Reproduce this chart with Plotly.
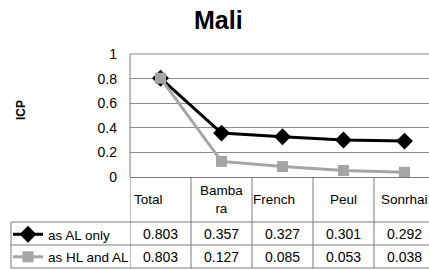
import plotly.graph_objects as go

categories = ["Total", "Bambara", "French", "Peul", "Sonrhai"]
header_labels = ["Total", "Bamba<br>ra", "French", "Peul", "Sonrhai"]
series_names = ["as AL only", "as HL and AL"]
al_only = [0.803, 0.357, 0.327, 0.301, 0.292]
hl_and_al = [0.803, 0.127, 0.085, 0.053, 0.038]
y_ticks = [0, 0.2, 0.4, 0.6, 0.8, 1]

W, H = 429, 270
FONT = "Liberation Sans, Arial, sans-serif"
GRID = "#8a8a8a"
BORDER = "#7a7a7a"

def px_x(p):
    return p / W

def px_y(p):
    return 1 - p / H

plot_left, plot_top, plot_bottom = 130, 54, 177
row1, row2, row3 = 222, 245, 268
col_w = 61

fig = go.Figure()
fig.add_trace(go.Scatter(
    x=categories, y=al_only, name=series_names[0], mode="lines+markers",
    legendgroup="a",
    line=dict(color="black", width=3),
    marker=dict(symbol="diamond", size=13, color="black"),
))
fig.add_trace(go.Scatter(
    x=categories, y=hl_and_al, name=series_names[1], mode="lines+markers",
    legendgroup="b",
    line=dict(color="#a5a5a5", width=3),
    marker=dict(symbol="square", size=11, color="#a5a5a5"),
))

x_max = -0.5 + (W - plot_left) / col_w

shapes = []
for i in range(len(categories)):
    xb = i - 0.5
    shapes.append(dict(type="line", xref="x", yref="paper", x0=xb, x1=xb,
                       y0=px_y(plot_bottom), y1=px_y(row3),
                       line=dict(color=BORDER, width=1)))
shapes.append(dict(type="line", xref="paper", yref="paper", x0=px_x(11), x1=px_x(11),
                   y0=px_y(row1), y1=px_y(row3), line=dict(color=BORDER, width=1)))
for yy in (row1, row2, row3):
    shapes.append(dict(type="line", xref="paper", yref="paper", x0=px_x(11), x1=1,
                       y0=px_y(yy), y1=px_y(yy), line=dict(color=BORDER, width=1)))
shapes.append(dict(type="line", xref="paper", yref="paper", x0=px_x(plot_left), x1=1,
                   y0=px_y(plot_top), y1=px_y(plot_top), line=dict(color=GRID, width=1)))
shapes.append(dict(type="line", xref="paper", yref="paper", x0=px_x(plot_left), x1=px_x(plot_left),
                   y0=px_y(plot_top), y1=px_y(plot_bottom), line=dict(color=BORDER, width=1)))

annotations = []
align = ["left", "center", "left", "center", "center"]
for i, lab in enumerate(header_labels):
    if align[i] == "left":
        annotations.append(dict(xref="x", yref="paper", x=i - 0.5, y=px_y((plot_bottom + row1) / 2),
                                text=lab, showarrow=False, xanchor="left", yanchor="middle",
                                xshift=2 if i == 0 else -1,
                                font=dict(family=FONT, size=13.5, color="black")))
    else:
        annotations.append(dict(xref="x", yref="paper", x=i, y=px_y((plot_bottom + row1) / 2),
                                text=lab, showarrow=False, xanchor="center", yanchor="middle",
                                font=dict(family=FONT, size=13.5, color="black")))
for vals, (ya, yb) in ((al_only, (row1, row2)), (hl_and_al, (row2, row3))):
    for i, v in enumerate(vals):
        annotations.append(dict(xref="x", yref="paper", x=i, y=px_y((ya + yb) / 2),
                                text=f"{v:.3f}", showarrow=False, xanchor="center", yanchor="middle",
                                font=dict(family=FONT, size=14, color="black")))
annotations.append(dict(xref="paper", yref="paper", x=px_x(218), y=px_y(20), text="<b>Mali</b>",
                        showarrow=False, xanchor="center", yanchor="middle",
                        font=dict(family=FONT, size=25, color="black")))
annotations.append(dict(xref="paper", yref="paper", x=px_x(21), y=px_y(110), text="<b>ICP</b>",
                        showarrow=False, xanchor="center", yanchor="middle", textangle=-90,
                        font=dict(family=FONT, size=12, color="black")))

fig.update_layout(
    width=W, height=H,
    margin=dict(l=0, r=0, t=0, b=0, autoexpand=False),
    paper_bgcolor="white", plot_bgcolor="white",
    showlegend=True,
    legend=dict(x=px_x(8), y=px_y(row1 - 3), xanchor="left", yanchor="top",
                font=dict(family=FONT, size=13.5, color="black"),
                bgcolor="rgba(0,0,0,0)", borderwidth=0, tracegroupgap=2,
                itemwidth=30),
    xaxis=dict(domain=[px_x(plot_left), 1], range=[-0.5, x_max], showticklabels=False,
               showgrid=False, zeroline=False, showline=True, linecolor=BORDER, linewidth=1,
               ticks="", fixedrange=True),
    yaxis=dict(domain=[px_y(plot_bottom), px_y(plot_top)], range=[0, 1], tickvals=y_ticks,
               ticktext=[f"{t:g}" for t in y_ticks], showgrid=True, gridcolor=GRID, gridwidth=1,
               zeroline=False, showline=False, ticks="", ticklabelstandoff=12,
               tickfont=dict(family=FONT, size=14, color="black")),
    shapes=shapes,
    annotations=annotations,
)

fig.write_html("out.html", config={"displayModeBar": False},
               post_script="document.body.style.margin='0';document.body.style.overflow='hidden';")
